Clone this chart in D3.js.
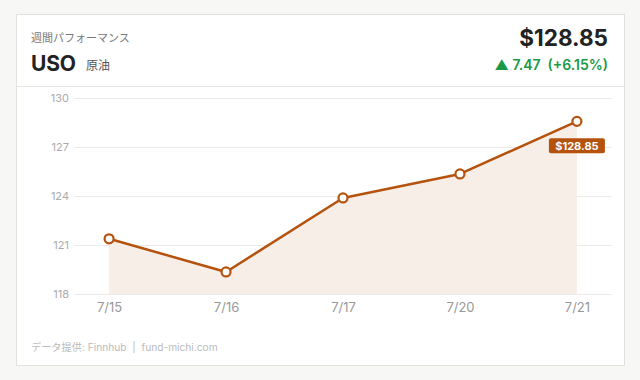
<!DOCTYPE html>
<html>
<head>
<meta charset="utf-8">
<script src="https://cdn.jsdelivr.net/npm/d3@7"></script>
<style>
  body { margin: 0; background: #f7f7f5; font-family: Inter, "Noto Sans CJK JP", sans-serif; }
  svg { display: block; }
</style>
</head>
<body>
<svg id="chart"></svg>
<script>
// data
var dates = ["7/15", "7/16", "7/17", "7/20", "7/21"];
var closes = [121.38, 119.35, 123.88, 125.35, 128.57];
var yTicks = [118, 121, 124, 127, 130];
var ticker = "USO";
var tickerName = "原油";
var title = "週間パフォーマンス";
var priceLabel = "$128.85";
var changeLabel = "▲ 7.47  (+6.15%)";
var footer = "データ提供: Finnhub  |  fund-michi.com";

var W = 640, H = 380;
var svg = d3.select("#chart").attr("width", W).attr("height", H);

//------------
// CARD
//------------
svg.append("rect")
    .attr("x", 16.5).attr("y", 14.5)
    .attr("width", 608).attr("height", 351)
    .attr("fill", "#fff")
    .attr("stroke", "#e2e2dd");

svg.append("line")
    .attr("x1", 17).attr("x2", 624)
    .attr("y1", 86.5).attr("y2", 86.5)
    .attr("stroke", "#e6e6e1");

// header
svg.append("text").attr("x", 31).attr("y", 42)
    .attr("font-size", 11).attr("fill", "#777")
    .attr("font-family", "'Noto Sans CJK JP', sans-serif")
    .text(title);
svg.append("text").attr("x", 31).attr("y", 71)
    .attr("font-size", 21).attr("font-weight", 700).attr("fill", "#222")
    .attr("letter-spacing", -0.2)
    .text(ticker);
svg.append("text").attr("x", 86).attr("y", 70)
    .attr("font-size", 12).attr("fill", "#555")
    .attr("font-family", "'Noto Sans CJK JP', sans-serif")
    .text(tickerName);
svg.append("text").attr("x", 608).attr("y", 46)
    .attr("text-anchor", "end")
    .attr("font-size", 22.5).attr("font-weight", 700).attr("fill", "#222")
    .text(priceLabel);
svg.append("text").attr("x", 608).attr("y", 70)
    .attr("text-anchor", "end")
    .attr("font-size", 14).attr("font-weight", 600).attr("fill", "#1a9a48")
    .attr("xml:space", "preserve")
    .style("white-space", "pre")
    .text(changeLabel);

//------------
// SCALES
//------------
var x = d3.scalePoint().domain(dates).range([74, 612]).padding(0.3);
var y = d3.scaleLinear().domain([118, 130]).range([294, 98]);

// grid + y labels
var yAxis = svg.append("g")
    .attr("transform", "translate(74,0)")
    .call(d3.axisLeft(y).tickValues(yTicks).tickSize(-538).tickPadding(5));
yAxis.select(".domain").remove();
yAxis.selectAll(".tick line").attr("stroke", "#ebebeb");
yAxis.selectAll(".tick text")
    .attr("fill", "#aaa").attr("font-size", 11)
    .attr("font-family", "Inter, sans-serif");

// x labels
var xAxis = svg.append("g")
    .attr("transform", "translate(0,294)")
    .call(d3.axisBottom(x).tickSize(0).tickPadding(9));
xAxis.select(".domain").remove();
xAxis.selectAll(".tick text")
    .attr("fill", "#999").attr("font-size", 13)
    .attr("font-family", "Inter, sans-serif");

//------------
// AREA + LINE
//------------
var pts = dates.map((d, i) => ({ date: d, v: closes[i] }));

svg.append("path").datum(pts)
    .attr("fill", "#f8eee8")
    .attr("d", d3.area().x(d => x(d.date)).y0(y(118)).y1(d => y(d.v)));

svg.append("path").datum(pts)
    .attr("fill", "none")
    .attr("stroke", "#b5520e")
    .attr("stroke-width", 2.5)
    .attr("stroke-linejoin", "round")
    .attr("d", d3.line().x(d => x(d.date)).y(d => y(d.v)));

svg.selectAll("circle.pt").data(pts).enter()
    .append("circle").attr("class", "pt")
    .attr("cx", d => x(d.date)).attr("cy", d => y(d.v))
    .attr("r", 4.5)
    .attr("fill", "#fff").attr("stroke", "#b5520e").attr("stroke-width", 2.2);

// last price tag
var last = pts[pts.length - 1];
var lx = x(last.date), ly = y(last.v) + 24;
svg.append("rect")
    .attr("x", lx - 28).attr("y", ly - 7)
    .attr("width", 56).attr("height", 15).attr("rx", 2)
    .attr("fill", "#b5520e");
svg.append("text")
    .attr("x", lx).attr("y", ly + 4.5)
    .attr("text-anchor", "middle")
    .attr("font-size", 11).attr("font-weight", 700).attr("fill", "#fff")
    .text(priceLabel);

// footer
svg.append("text").attr("x", 31).attr("y", 351)
    .attr("font-size", 10.2).attr("fill", "#bbb")
    .attr("xml:space", "preserve")
    .style("white-space", "pre")
    .text(footer);
</script>
</body>
</html>
